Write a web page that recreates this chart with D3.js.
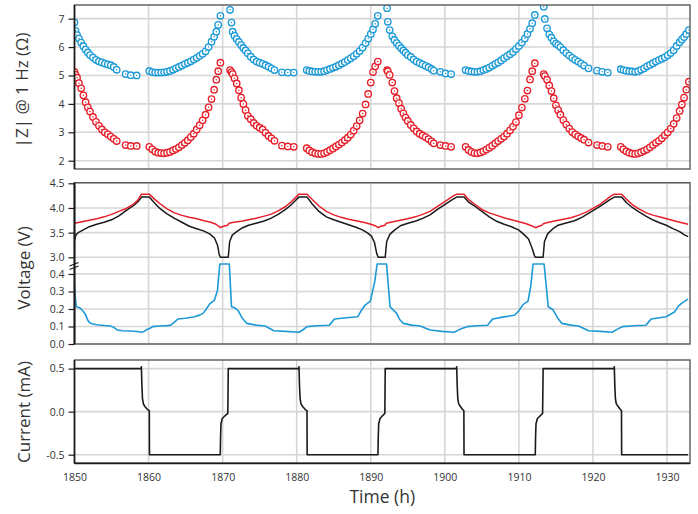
<!DOCTYPE html>
<html><head><meta charset="utf-8">
<script src="https://cdn.jsdelivr.net/npm/d3@7"></script>
<style>
html,body{margin:0;padding:0;background:#fff;}
svg{display:block;font-family:"Open Sans",sans-serif;}
</style></head>
<body><svg id="c" width="698" height="514"></svg>
<script>
// ---------- DATA ----------
const xTicks = [1850,1860,1870,1880,1890,1900,1910,1920,1930];
const zTicks = [2,3,4,5,6,7];
const vTicksUpper = [3.0,3.5,4.0,4.5];
const vTicksLower = [0.0,0.1,0.2,0.3,0.4];
const iTicks = [-0.5,0.0,0.5];

// |Z| @ 1 Hz : shared time, blue series, red series
const zTime = [
 1850.0,1850.15,1850.35,1850.6,1850.9,1851.2,1851.5,1851.8,1852.1,1852.5,1852.9,1853.3,1853.7,1854.1,1854.5,1854.9,1855.3,1855.7,1856.9,1857.6,1858.4,
 1860.1,1860.5,1860.9,1861.3,1861.7,1862.1,1862.5,1862.9,1863.3,1863.7,1864.1,1864.5,1864.9,1865.3,1865.7,1866.1,1866.5,1866.9,1867.3,1867.7,1868.1,1868.5,1868.85,1869.15,1869.4,1869.7,
 1871.0,1871.2,1871.35,1871.6,1871.9,1872.2,1872.5,1872.8,1873.1,1873.4,1873.8,1874.2,1874.6,1875.0,1875.4,1875.8,1876.2,1876.6,1877.0,1878.0,1878.8,1879.6,
 1881.35,1881.7,1882.1,1882.5,1882.9,1883.3,1883.7,1884.1,1884.5,1884.9,1885.3,1885.7,1886.1,1886.5,1886.9,1887.3,1887.7,1888.1,1888.5,1888.9,1889.3,1889.65,1890.0,1890.3,1890.6,1890.95,
 1892.2,1892.3,1892.55,1892.9,1893.2,1893.5,1893.8,1894.1,1894.4,1894.7,1895.0,1895.4,1895.8,1896.2,1896.6,1897.0,1897.4,1897.8,1898.2,1898.5,1899.4,1900.1,1900.85,
 1902.8,1903.2,1903.6,1904.0,1904.4,1904.8,1905.2,1905.6,1906.0,1906.4,1906.8,1907.2,1907.6,1908.0,1908.4,1908.8,1909.2,1909.6,1910.0,1910.4,1910.8,1911.15,1911.5,1911.8,1912.15,
 1913.35,1913.5,1913.8,1914.1,1914.4,1914.7,1915.0,1915.3,1915.6,1916.0,1916.4,1916.8,1917.2,1917.6,1918.0,1918.4,1918.8,1919.4,1920.55,1921.25,1922.0,
 1923.75,1924.1,1924.5,1924.9,1925.3,1925.7,1926.1,1926.5,1926.9,1927.3,1927.7,1928.1,1928.5,1928.9,1929.3,1929.7,1930.1,1930.5,1930.9,1931.3,1931.7,1932.0,1932.3,1932.6,1932.95
];
const zBlue = [
 6.87,6.57,6.42,6.30,6.16,6.03,5.91,5.81,5.72,5.63,5.55,5.50,5.46,5.42,5.39,5.36,5.30,5.20,5.05,5.01,5.00,
 5.16,5.12,5.10,5.10,5.10,5.11,5.13,5.16,5.20,5.25,5.30,5.35,5.40,5.45,5.50,5.56,5.62,5.69,5.76,5.85,6.00,6.19,6.36,6.54,6.78,7.10,
 7.31,6.86,6.54,6.40,6.28,6.18,6.07,5.97,5.88,5.78,5.66,5.56,5.49,5.45,5.41,5.36,5.31,5.25,5.19,5.11,5.10,5.10,
 5.19,5.16,5.14,5.13,5.13,5.13,5.15,5.19,5.23,5.27,5.31,5.36,5.42,5.47,5.54,5.61,5.68,5.76,5.86,5.98,6.14,6.30,6.46,6.62,6.82,7.10,
 7.37,6.89,6.60,6.38,6.25,6.14,6.05,5.96,5.88,5.80,5.72,5.65,5.56,5.49,5.44,5.39,5.34,5.29,5.23,5.17,5.13,5.07,5.05,
 5.19,5.16,5.14,5.13,5.13,5.15,5.19,5.23,5.28,5.34,5.40,5.46,5.53,5.61,5.68,5.75,5.83,5.93,6.04,6.16,6.30,6.46,6.64,6.84,7.13,
 7.42,6.99,6.66,6.45,6.33,6.20,6.12,6.07,6.00,5.89,5.79,5.70,5.62,5.55,5.49,5.42,5.35,5.25,5.17,5.13,5.10,
 5.22,5.19,5.17,5.15,5.14,5.13,5.15,5.20,5.25,5.32,5.37,5.43,5.49,5.54,5.59,5.64,5.71,5.79,5.89,6.04,6.17,6.27,6.35,6.46,6.60
];
const zRed = [
 5.13,5.02,4.92,4.73,4.55,4.30,4.06,3.88,3.73,3.54,3.37,3.23,3.10,3.00,2.93,2.85,2.77,2.69,2.55,2.52,2.52,
 2.49,2.40,2.32,2.28,2.27,2.26,2.28,2.31,2.36,2.41,2.47,2.55,2.63,2.72,2.83,2.95,3.10,3.25,3.42,3.62,3.88,4.17,4.50,4.85,5.15,5.45,
 5.19,5.12,5.05,4.90,4.72,4.48,4.22,4.00,3.78,3.58,3.46,3.33,3.23,3.16,3.10,2.98,2.87,2.79,2.70,2.53,2.50,2.49,
 2.44,2.36,2.30,2.26,2.24,2.24,2.26,2.31,2.37,2.43,2.50,2.57,2.64,2.72,2.81,2.92,3.06,3.22,3.42,3.66,3.98,4.35,4.75,5.12,5.32,5.49,
 5.19,5.15,5.02,4.75,4.45,4.20,4.03,3.83,3.67,3.52,3.40,3.26,3.14,3.03,2.95,2.89,2.83,2.76,2.68,2.61,2.55,2.52,2.49,
 2.49,2.38,2.31,2.27,2.26,2.29,2.33,2.39,2.46,2.53,2.61,2.69,2.77,2.85,2.95,3.07,3.20,3.36,3.60,3.87,4.18,4.47,4.86,5.15,5.43,
 5.05,4.98,4.85,4.65,4.45,4.20,3.95,3.78,3.62,3.43,3.27,3.13,3.01,2.93,2.86,2.80,2.74,2.64,2.55,2.52,2.49,
 2.49,2.40,2.33,2.28,2.25,2.24,2.26,2.30,2.35,2.40,2.47,2.55,2.63,2.70,2.79,2.90,3.00,3.13,3.30,3.50,3.75,3.98,4.22,4.50,4.78
];

// Voltage (V): [time h, volts]
const voltRed = [[1850.0,3.69],[1851.0,3.72],[1852.0,3.75],[1853.0,3.78],[1854.0,3.82],[1855.0,3.87],[1856.0,3.93],[1857.0,3.99],[1857.8,4.06],[1858.5,4.15],[1859.05,4.28],[1860.1,4.28],[1860.8,4.18],[1861.6,4.08],[1862.5,3.98],[1863.5,3.90],[1864.5,3.85],[1865.5,3.81],[1866.5,3.78],[1867.5,3.74],[1868.4,3.71],[1869.1,3.67],[1869.7,3.60],[1870.1,3.63],[1870.7,3.65],[1870.85,3.69],[1871.5,3.71],[1872.5,3.73],[1873.5,3.76],[1874.5,3.79],[1875.5,3.83],[1876.5,3.87],[1877.5,3.94],[1878.5,4.03],[1879.3,4.13],[1879.9,4.22],[1880.3,4.28],[1881.4,4.28],[1882.1,4.17],[1883.0,4.04],[1884.0,3.93],[1885.0,3.86],[1886.0,3.81],[1887.0,3.77],[1888.0,3.74],[1889.0,3.71],[1890.0,3.67],[1890.6,3.64],[1891.0,3.60],[1891.4,3.63],[1891.9,3.65],[1892.1,3.69],[1893.0,3.72],[1894.0,3.75],[1895.0,3.78],[1896.0,3.82],[1897.0,3.87],[1898.0,3.93],[1898.8,4.01],[1899.6,4.09],[1900.4,4.17],[1901.1,4.24],[1901.6,4.28],[1902.6,4.28],[1903.2,4.17],[1904.0,4.08],[1905.0,3.97],[1906.0,3.90],[1907.0,3.85],[1908.0,3.80],[1909.0,3.76],[1910.0,3.72],[1911.0,3.68],[1911.7,3.64],[1912.24,3.60],[1912.7,3.63],[1913.1,3.65],[1913.3,3.68],[1914.0,3.71],[1915.0,3.74],[1916.0,3.77],[1917.0,3.80],[1918.0,3.85],[1919.0,3.91],[1920.0,3.99],[1921.0,4.08],[1921.8,4.17],[1922.4,4.24],[1922.88,4.28],[1923.87,4.28],[1924.5,4.18],[1925.3,4.07],[1926.2,3.98],[1927.2,3.90],[1928.2,3.85],[1929.2,3.81],[1930.2,3.77],[1931.2,3.73],[1932.0,3.70],[1932.84,3.67]];
const voltBlack = [[1850.0,3.35],[1850.2,3.45],[1850.5,3.50],[1851.0,3.54],[1852.0,3.62],[1853.0,3.67],[1854.0,3.71],[1855.0,3.76],[1856.0,3.84],[1857.0,3.95],[1858.0,4.05],[1858.6,4.13],[1859.05,4.22],[1860.1,4.22],[1860.8,4.10],[1861.6,3.98],[1862.5,3.88],[1863.5,3.79],[1864.5,3.71],[1865.5,3.63],[1866.5,3.58],[1867.5,3.53],[1868.3,3.47],[1868.9,3.39],[1869.3,3.25],[1869.55,3.05],[1869.7,3.0],[1870.76,3.0],[1870.95,3.32],[1871.3,3.45],[1871.9,3.52],[1872.7,3.60],[1873.5,3.65],[1874.5,3.69],[1875.5,3.73],[1876.5,3.79],[1877.5,3.87],[1878.5,3.97],[1879.3,4.07],[1879.9,4.16],[1880.3,4.22],[1881.4,4.22],[1882.1,4.08],[1883.0,3.93],[1884.0,3.82],[1885.0,3.76],[1886.0,3.71],[1887.0,3.66],[1888.0,3.61],[1888.8,3.56],[1889.5,3.50],[1890.1,3.43],[1890.5,3.30],[1890.8,3.08],[1891.0,3.0],[1891.95,3.0],[1892.15,3.32],[1892.6,3.47],[1893.2,3.55],[1894.0,3.64],[1895.0,3.69],[1896.0,3.73],[1897.0,3.79],[1898.0,3.86],[1899.0,3.97],[1900.0,4.07],[1900.8,4.15],[1901.6,4.22],[1902.6,4.22],[1903.2,4.12],[1904.0,4.04],[1905.0,3.93],[1906.0,3.82],[1907.0,3.73],[1908.0,3.67],[1909.0,3.62],[1910.0,3.55],[1910.7,3.46],[1911.3,3.37],[1911.8,3.18],[1912.1,3.03],[1912.24,3.0],[1913.27,3.0],[1913.45,3.32],[1913.9,3.48],[1914.6,3.58],[1915.3,3.65],[1916.5,3.70],[1917.5,3.74],[1918.5,3.81],[1919.5,3.90],[1920.5,3.99],[1921.4,4.08],[1922.2,4.16],[1922.88,4.22],[1923.87,4.22],[1924.5,4.11],[1925.3,4.01],[1926.2,3.92],[1927.2,3.83],[1928.2,3.75],[1929.0,3.70],[1929.9,3.65],[1930.8,3.58],[1931.7,3.52],[1932.3,3.46],[1932.84,3.42]];
const voltBlue = [[1850.0,0.33],[1850.15,0.25],[1850.25,0.213],[1850.75,0.205],[1851.1,0.19],[1851.45,0.172],[1851.8,0.135],[1852.05,0.122],[1852.5,0.114],[1853.0,0.11],[1854.0,0.106],[1854.85,0.103],[1855.3,0.095],[1855.75,0.08],[1856.5,0.076],[1857.5,0.074],[1858.5,0.071],[1859.1,0.067],[1859.4,0.072],[1859.85,0.084],[1860.2,0.09],[1860.55,0.099],[1861.5,0.103],[1862.5,0.105],[1863.0,0.108],[1863.5,0.125],[1863.95,0.143],[1865.0,0.147],[1866.2,0.156],[1866.9,0.165],[1867.35,0.175],[1867.8,0.2],[1868.25,0.229],[1868.9,0.251],[1869.3,0.305],[1869.62,0.457],[1870.9,0.457],[1871.2,0.213],[1871.7,0.205],[1872.1,0.19],[1872.6,0.15],[1873.25,0.118],[1874.5,0.108],[1875.75,0.103],[1876.3,0.09],[1876.9,0.076],[1878.5,0.072],[1880.3,0.067],[1880.8,0.08],[1881.4,0.099],[1882.8,0.104],[1884.4,0.107],[1884.75,0.125],[1885.1,0.143],[1886.7,0.15],[1888.25,0.156],[1888.7,0.19],[1889.2,0.22],[1889.95,0.245],[1890.55,0.36],[1890.86,0.457],[1892.13,0.457],[1892.6,0.213],[1893.5,0.175],[1893.9,0.14],[1894.4,0.118],[1895.5,0.108],[1896.7,0.103],[1897.4,0.09],[1898.05,0.08],[1899.6,0.072],[1901.25,0.067],[1902.1,0.085],[1903.0,0.099],[1904.4,0.104],[1905.77,0.107],[1906.1,0.125],[1906.45,0.143],[1908.0,0.155],[1909.4,0.164],[1910.0,0.19],[1910.55,0.225],[1911.23,0.245],[1911.6,0.33],[1911.91,0.457],[1913.4,0.457],[1913.96,0.213],[1914.64,0.194],[1915.2,0.15],[1915.78,0.118],[1917.0,0.108],[1918.05,0.103],[1918.7,0.09],[1919.4,0.076],[1921.0,0.072],[1922.6,0.067],[1923.3,0.085],[1923.97,0.099],[1925.5,0.104],[1927.15,0.107],[1927.5,0.125],[1927.85,0.143],[1929.0,0.15],[1929.87,0.156],[1931.0,0.183],[1931.5,0.215],[1931.92,0.231],[1932.4,0.245],[1932.84,0.256]];

// Current (mA): [time h, mA]
const current = [[1850.0,0.5],[1858.98,0.5],[1859.03,0.52],[1859.1,0.3],[1859.18,0.15],[1859.3,0.09],[1859.5,0.06],[1859.8,0.03],[1860.1,0.01],[1860.12,-0.5],[1869.68,-0.5],[1869.72,-0.3],[1869.78,-0.14],[1869.95,-0.08],[1870.3,-0.05],[1870.7,-0.02],[1870.76,0.5],[1880.27,0.5],[1880.31,0.52],[1880.38,0.3],[1880.46,0.15],[1880.58,0.09],[1880.8,0.06],[1881.1,0.03],[1881.39,0.01],[1881.41,-0.5],[1890.97,-0.5],[1891.01,-0.3],[1891.07,-0.14],[1891.25,-0.08],[1891.55,-0.05],[1891.9,-0.02],[1891.95,0.5],[1901.56,0.5],[1901.6,0.52],[1901.67,0.3],[1901.75,0.15],[1901.87,0.09],[1902.1,0.06],[1902.35,0.03],[1902.57,0.01],[1902.59,-0.5],[1912.21,-0.5],[1912.25,-0.3],[1912.31,-0.14],[1912.5,-0.08],[1912.85,-0.05],[1913.2,-0.02],[1913.27,0.5],[1922.84,0.5],[1922.88,0.52],[1922.95,0.3],[1923.03,0.15],[1923.15,0.09],[1923.4,0.06],[1923.65,0.03],[1923.85,0.01],[1923.87,-0.5],[1932.84,-0.5]];

// ---------- DRAW ----------
const BLUE = "#1d9ad6", RED = "#e5202b", BLACK = "#1a1a1a";
const GRID = "#d6d6d6", TXT = "#333";
const svg = d3.select("#c");
const L = 74.5, R = 690;
const x = d3.scaleLinear().domain([1850, 1933.1]).range([L, R]);

const P1 = {top:5, bot:169};
const P2 = {top:182.7, bot:344};
const P3 = {top:360, bot:463.3};

const yZ = d3.scaleLinear().domain([1.708, 7.48]).range([P1.bot, P1.top]);
const yVu = d3.scaleLinear().domain([3.0, 4.5]).range([257.3, 183.3]);
const yVl = d3.scaleLinear().domain([0, 0.457]).range([P2.bot, 264]).clamp(true);
const yI = d3.scaleLinear().domain([-0.6, 0.6]).range([P3.bot, P3.top]);

const f1 = d3.formatLocale({decimal:".",thousands:",",grouping:[3],currency:["",""],minus:"-"}).format(".1f");

function clip(id, p){
  svg.append("clipPath").attr("id", id).append("rect")
    .attr("x", L).attr("y", p.top).attr("width", R-L).attr("height", p.bot-p.top);
}
clip("c1",P1); clip("c2",P2); clip("c3",P3);

function vgrid(p){
  svg.append("g").selectAll("line").data(xTicks.slice(1)).join("line")
    .attr("x1", d=>x(d)).attr("x2", d=>x(d)).attr("y1", p.top).attr("y2", p.bot)
    .attr("stroke", GRID).attr("stroke-width", 1.6);
}
function hgrid(scale, ticks){
  svg.append("g").selectAll("line").data(ticks).join("line")
    .attr("x1", L).attr("x2", R).attr("y1", d=>scale(d)).attr("y2", d=>scale(d))
    .attr("stroke", GRID).attr("stroke-width", 1.6);
}
function frame(p){
  svg.append("rect").attr("x", L).attr("y", p.top).attr("width", R-L).attr("height", p.bot-p.top)
    .attr("fill","none").attr("stroke","#5a5a5a").attr("stroke-width",1.4);
}
function leftAxis(scale, ticks, fmt, p){
  const g = svg.append("g").attr("transform", `translate(${L},0)`)
    .call(d3.axisLeft(scale).tickValues(ticks).tickFormat(fmt).tickSize(6).tickPadding(4).tickSizeOuter(0));
  g.select(".domain").remove();
  g.selectAll(".tick line").attr("stroke", BLACK).attr("stroke-width", 1.2);
  g.selectAll(".tick text").attr("fill", TXT).style("font-size","10.5px").style("font-family","'Open Sans',sans-serif");
  svg.append("line").attr("x1",L).attr("x2",L).attr("y1",p.top).attr("y2",p.bot)
    .attr("stroke", BLACK).attr("stroke-width",1.6);
  return g;
}

// Panel 1 : |Z|
vgrid(P1); hgrid(yZ, zTicks);
const zPts = zTime.map((t,i)=>({t, b:zBlue[i], r:zRed[i]}));
const g1 = svg.append("g").attr("clip-path","url(#c1)");
function markers(g, key, col){
  const m = g.append("g").selectAll("g").data(zPts).join("g")
    .attr("transform", d=>`translate(${x(d.t)},${yZ(d[key])})`);
  m.append("circle").attr("r",3.2).attr("fill","#fff").attr("stroke",col).attr("stroke-width",1.35);
  m.append("circle").attr("r",0.75).attr("fill",col);
}
markers(g1,"b",BLUE);
markers(g1,"r",RED);
frame(P1);
leftAxis(yZ, zTicks, d3.format("d"), P1);

// Panel 2 : Voltage
vgrid(P2); hgrid(yVu, vTicksUpper); hgrid(yVl, vTicksLower);
const g2 = svg.append("g").attr("clip-path","url(#c2)");
const lineU = d3.line().x(d=>x(d[0])).y(d=>yVu(d[1]));
const lineL = d3.line().x(d=>x(d[0])).y(d=>yVl(d[1]));
g2.append("path").datum(voltBlack).attr("d",lineU).attr("fill","none").attr("stroke",BLACK).attr("stroke-width",1.5).attr("stroke-linejoin","round");
g2.append("path").datum(voltRed).attr("d",lineU).attr("fill","none").attr("stroke",RED).attr("stroke-width",1.5).attr("stroke-linejoin","round");
g2.append("path").datum(voltBlue).attr("d",lineL).attr("fill","none").attr("stroke",BLUE).attr("stroke-width",1.6).attr("stroke-linejoin","round");
frame(P2);
leftAxis(yVu, vTicksUpper, f1, P2);
leftAxis(yVl, vTicksLower, f1, P2);
// axis break marks
const brk = svg.append("g").attr("stroke", BLACK).attr("stroke-width",1.1);
[0,3.6].forEach(o=>{
  brk.append("line").attr("x1",L-5).attr("y1",yVl(0.457)+2+o).attr("x2",L+4).attr("y2",yVl(0.457)-1.5+o);
});

// Panel 3 : Current
vgrid(P3); hgrid(yI, iTicks);
const g3 = svg.append("g").attr("clip-path","url(#c3)");
const lineI = d3.line().x(d=>x(d[0])).y(d=>yI(d[1]));
g3.append("path").datum(current).attr("d",lineI).attr("fill","none").attr("stroke",BLACK).attr("stroke-width",1.6).attr("stroke-linejoin","round");
frame(P3);
leftAxis(yI, iTicks, f1, P3);
svg.append("line").attr("x1",L).attr("x2",R).attr("y1",P3.bot).attr("y2",P3.bot).attr("stroke",BLACK).attr("stroke-width",1.8);
const gx = svg.append("g").attr("transform",`translate(0,${P3.bot})`)
  .call(d3.axisBottom(x).tickValues(xTicks).tickFormat(d3.format("d")).tickSize(0).tickPadding(10));
gx.select(".domain").remove();
gx.selectAll(".tick text").attr("fill",TXT).style("font-size","10.5px").style("font-family","'Open Sans',sans-serif");

// Titles
function ytitle(txt, cx, cy){
  svg.append("text").attr("transform",`translate(${cx},${cy}) rotate(-90)`)
    .attr("text-anchor","middle").attr("dominant-baseline","central")
    .attr("fill",TXT).style("font-size","17px").text(txt);
}
ytitle("|Z| @ 1 Hz (\u03A9)", 21, 90);
ytitle("Voltage (V)", 23, 268);
ytitle("Current (mA)", 23, 412);
svg.append("text").attr("x",(L+R)/2).attr("y",503).attr("text-anchor","middle")
  .attr("fill",TXT).style("font-size","17.5px").text("Time (h)");
</script></body></html>
